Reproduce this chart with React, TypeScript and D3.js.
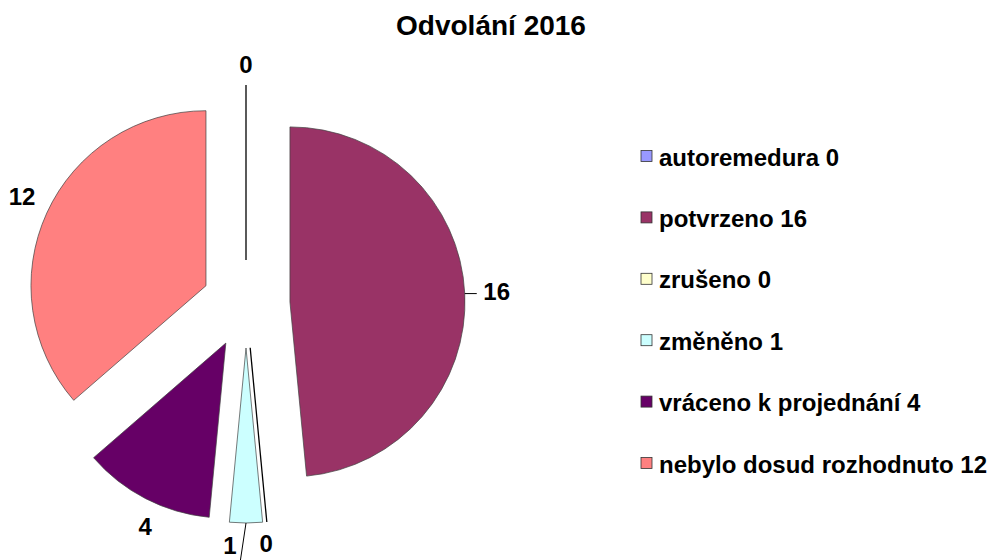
import React from 'react';
import * as d3 from 'd3';

const title = 'Odvolání 2016';
const categories = ['autoremedura', 'potvrzeno', 'zrušeno', 'změněno', 'vráceno k projednání', 'nebylo dosud rozhodnuto'];
const values = [0, 16, 0, 1, 4, 12];
const colors = ['#9999FF', '#993366', '#FFFFCC', '#CCFFFF', '#660066', '#FF8080'];

const W = 989;
const H = 560;
const CX = 246;
const CY = 304;
const R = 175;
const EXPLODE = 44;
const LABEL_DIST = 200;
// small label placement tweaks (layout only)
const labelNudge: [number, number][] = [[0, 4], [7, -1], [-3, -4], [-16, -3], [11, 5], [-2, -6]];
const leaderFor = [false, true, false, true, false, false];
const FONT = '"Liberation Sans", Arial, Helvetica, sans-serif';
const FS = 24;

export default function App() {
  const pie = d3.pie<number>().sort(null).value((d) => d).startAngle(0).endAngle(2 * Math.PI);
  const arcs = pie(values);
  const arcGen = d3.arc<d3.PieArcDatum<number>>().innerRadius(0).outerRadius(R);
  const legendY = d3.scalePoint<string>().domain(categories).range([156, 463]);

  const dir = (a: number) => [Math.sin(a), -Math.cos(a)];

  return (
    <svg width={W} height={H} style={{ position: 'absolute', left: 0, top: 0, background: '#fff' }} fontFamily={FONT}>
      <text x={491} y={35} textAnchor="middle" fontSize={28} fontWeight="bold" fill="#000">{title}</text>
      {arcs.map((a, i) => {
        const mid = (a.startAngle + a.endAngle) / 2;
        const [dx, dy] = dir(mid);
        const ex = CX + EXPLODE * dx;
        const ey = CY + EXPLODE * dy;
        const lx = ex + LABEL_DIST * dx + labelNudge[i][0];
        const ly = ey + LABEL_DIST * dy + labelNudge[i][1];
        const ox = ex + R * dx;
        const oy = ey + R * dy;
        return (
          <g key={categories[i]}>
            {a.value === 0 ? (
              <line x1={ex} y1={ey} x2={ox} y2={oy} stroke="#000" strokeWidth={1.3} />
            ) : (
              <path d={arcGen(a) || ''} transform={`translate(${ex},${ey})`} fill={colors[i]} stroke="#404040" strokeWidth={0.7} />
            )}
            {leaderFor[i] && (
              dy > 0.5 ? (
                <line x1={ox} y1={oy} x2={ox - 6} y2={oy + 40} stroke="#000" strokeWidth={1} />
              ) : (
                <line x1={ox} y1={oy} x2={ox + 12} y2={oy} stroke="#000" strokeWidth={1} />
              )
            )}
            <text x={lx} y={ly + 0.36 * FS} textAnchor="middle" fontSize={FS} fontWeight="bold" fill="#000">{String(values[i])}</text>
          </g>
        );
      })}
      {categories.map((c, i) => {
        const y = legendY(c) as number;
        return (
          <g key={'lg' + c}>
            <rect x={641} y={y - 5.5} width={11} height={11} fill={colors[i]} stroke="#333" strokeWidth={0.8} />
            <text x={659} y={y + 0.36 * FS + 1} fontSize={FS} fontWeight="bold" fill="#000">{`${c} ${values[i]}`}</text>
          </g>
        );
      })}
    </svg>
  );
}
